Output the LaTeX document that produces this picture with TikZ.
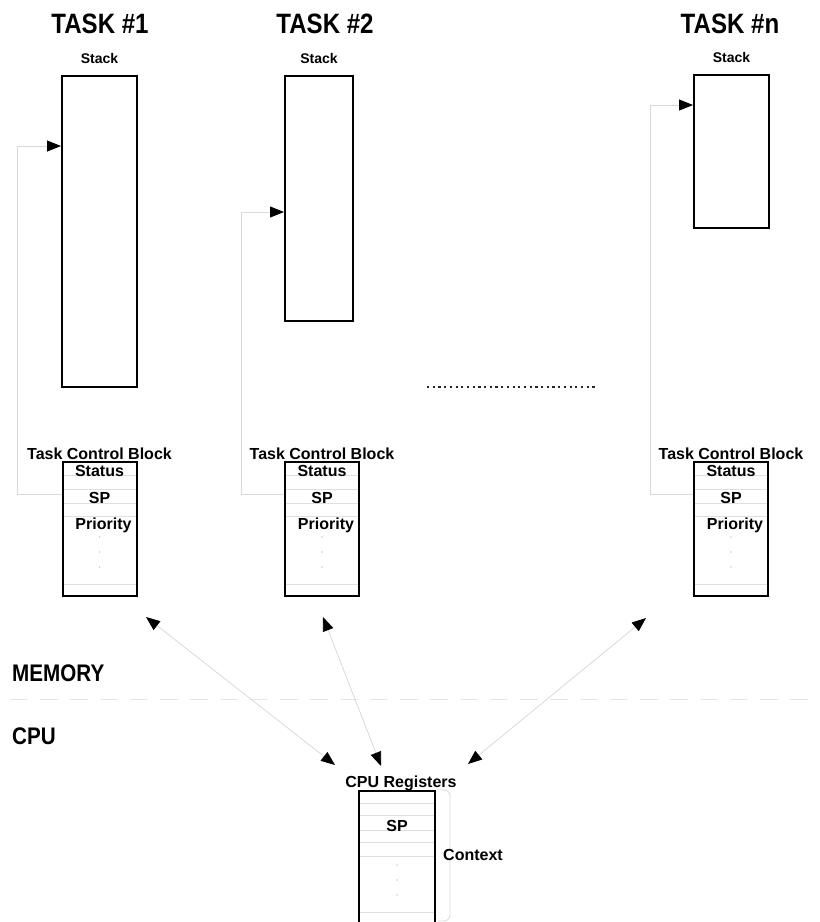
\documentclass[tikz,border=0pt]{standalone}
\usepackage{fontspec}
\setmainfont{Liberation Sans}
\newfontfamily\headfont[FakeStretch=0.86]{Liberation Sans}
\usetikzlibrary{arrows.meta, positioning}

\tikzset{
  box/.style={draw, line width=2pt, inner sep=0pt},
  lbl/.style={font=\bfseries\fontsize{16}{16}\selectfont, inner sep=0pt},
  title/.style={font=\headfont\bfseries\fontsize{28}{28}\selectfont, inner sep=0pt},
  area/.style={font=\headfont\bfseries\fontsize{24}{24}\selectfont, inner sep=0pt},
  rowline/.style={gray!25, line width=0.8pt},
  link/.style={gray!30, line width=0.8pt},
  feed/.style={-{Triangle[length=14pt, width=11pt, color=black, fill=black]}},
  twoway/.style={{Triangle[length=14pt, width=11pt, color=black, fill=black]}-{Triangle[length=14pt, width=11pt, color=black, fill=black]}},
}

\begin{document}
\begin{tikzpicture}[x=1pt, y=-1pt]
    \clip (0,0) rectangle (820,922);
    % stacks
    \node[box, minimum width=75pt, minimum height=311pt] (stack1) at (99.5,231.5) {};
    \node[box, minimum width=68pt, minimum height=245pt] (stack2) at (319,198.5) {};
    \node[box, minimum width=75pt, minimum height=153pt] (stackn) at (731.5,151.5) {};
    \node[title] (task1) at (100,24) {TASK \#1};
    \node[title] (task2) at (325,24) {TASK \#2};
    \node[title] (taskn) at (730,24) {TASK \#n};
    \node[lbl, font=\bfseries\fontsize{14}{14}\selectfont, above=11pt of stack1] (stk1) {Stack};
    \node[lbl, font=\bfseries\fontsize{14}{14}\selectfont, above=11pt of stack2] (stk2) {Stack};
    \node[lbl, font=\bfseries\fontsize{14}{14}\selectfont, above=11pt of stackn] (stkn) {Stack};
    % task control blocks
    \foreach \n/\x in {1/99.5, 2/322, n/731} {
        \foreach \dy in {13,27,41,54,122}
            \draw[rowline] ([xshift=1pt, yshift=-\dy pt]\x-37,462) -- ([xshift=-1pt, yshift=-\dy pt]\x+37,462);
        \node[box, minimum width=74pt, minimum height=134pt] (tcb\n) at (\x,529) {};
        \node[lbl, anchor=base] (tcblab\n) at ([yshift=2pt]tcb\n.north) {Task Control Block};
        \node[lbl, anchor=base] (st\n) at ([yshift=-15.7pt]tcb\n.north) {Status};
        \node[lbl, anchor=base] (sp\n) at ([yshift=-42pt]tcb\n.north) {SP};
        \node[lbl, anchor=base] (pr\n) at ([xshift=4pt, yshift=-68pt]tcb\n.north) {Priority};
        \foreach \dy in {537,552,567}
            \fill[gray!40] (\x,\dy) circle (0.8pt);
    }
    % stack pointers
    \draw[link, feed] ([yshift=-33pt]tcb1.north west) -- ++(-44,0) |- ([yshift=-71pt]stack1.north west);
    \draw[link, feed] ([yshift=-33pt]tcb2.north west) -- ++(-43,0) |- ([yshift=-137pt]stack2.north west);
    \draw[link, feed] ([yshift=-33pt]tcbn.north west) -- ++(-43,0) |- ([yshift=-31pt]stackn.north west);
    \draw[black!85, line width=2.2pt, dash pattern=on 2.2pt off 3.5pt] (427,387) -- (596,387);
    % memory / cpu
    \node[area, anchor=west] (memory) at (12,673) {MEMORY};
    \draw[gray!20, line width=0.8pt, dash pattern=on 18pt off 12pt] (10,699) -- (820,699);
    \node[area, anchor=west] (cpulab) at (12,736) {CPU};
    \node[box, minimum width=76pt, minimum height=150pt, anchor=north] (cpu) at (397,790) {};
    \foreach \dy in {803,815,830,842,856,912}
        \draw[rowline] (360,\dy) -- (434,\dy);
    \foreach \dy in {865,880,895}
        \fill[gray!40] (397,\dy) circle (0.8pt);
    \node[lbl, anchor=base] (reglab) at ([xshift=4pt, yshift=3pt]cpu.north) {CPU Registers};
    \node[lbl, anchor=base] (cpusp) at ([yshift=-41pt]cpu.north) {SP};
    \draw[link, rounded corners=6pt] ([xshift=2pt]cpu.north east) -- ++(12,0) -- ++(0,131) -- ++(-12,0);
    \node[lbl, anchor=base west, fill=white, inner xsep=1pt] (context) at (442,860) {Context};
    % context switch
    \coordinate (m1) at (146,617);
    \coordinate (m2) at (323,617);
    \coordinate (mn) at (646,618);
    \coordinate (c1) at (335,765);
    \coordinate (c2) at (381,766);
    \coordinate (cn) at (468,764);
    \draw[link, twoway] (m1) -- (c1);
    \draw[link, twoway] (m2) -- (c2);
    \draw[link, twoway] (mn) -- (cn);
\end{tikzpicture}
\end{document}
